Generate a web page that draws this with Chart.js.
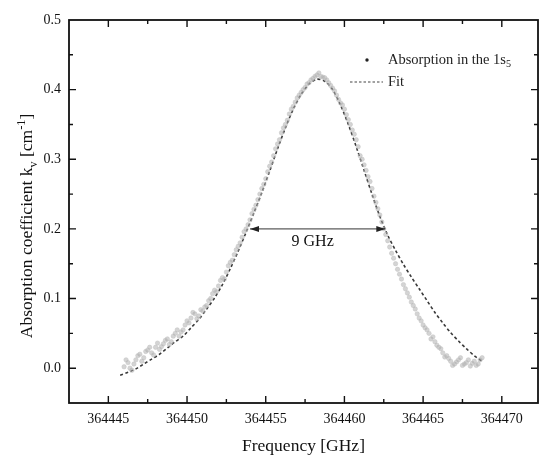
<!DOCTYPE html>
<html>
<head>
<meta charset="utf-8">
<script src="https://cdn.jsdelivr.net/npm/chart.js@4.4.1/dist/chart.umd.min.js"></script>
<style>
  html, body { margin: 0; padding: 0; background: #fff; }
  #wrap { width: 539px; height: 455px; }
</style>
</head>
<body>
<div id="wrap"><canvas id="absChart" width="539" height="455"></canvas></div>
<script>
// measured absorption, frequencies as offsets from 364000 GHz
const dataFreq = [
  446.00, 446.25, 446.50, 446.75, 447.00, 447.25, 447.50, 447.75, 448.00, 448.25,
  448.50, 448.75, 449.00, 449.25, 449.50, 449.75, 450.00, 450.25, 450.50, 450.75,
  451.00, 451.25, 451.50, 451.75, 452.00, 452.25, 452.50, 452.75, 453.00, 453.25,
  453.50, 453.75, 454.00, 454.25, 454.50, 454.75, 455.00, 455.25, 455.50, 455.75,
  456.00, 456.25, 456.50, 456.75, 457.00, 457.25, 457.50, 457.75, 458.00, 458.25,
  458.50, 458.75, 459.00, 459.25, 459.50, 459.75, 460.00, 460.25, 460.50, 460.75,
  461.00, 461.25, 461.50, 461.75, 462.00, 462.25, 462.50, 462.75, 463.00, 463.25,
  463.50, 463.75, 464.00, 464.25, 464.50, 464.75, 465.00, 465.25, 465.50, 465.75,
  466.00, 466.25, 466.50, 466.75, 467.00, 467.25, 467.50, 467.75, 468.00, 468.25,
  468.50, 468.75
];
const dataAbs = [
  0.002, 0.008, -0.003, 0.012, 0.020, 0.015, 0.026, 0.022, 0.030, 0.027,
  0.035, 0.042, 0.038, 0.050, 0.046, 0.055, 0.068, 0.072, 0.078, 0.075,
  0.082, 0.090, 0.100, 0.112, 0.118, 0.130, 0.138, 0.152, 0.163, 0.175,
  0.188, 0.200, 0.213, 0.228, 0.242, 0.258, 0.272, 0.290, 0.305, 0.322,
  0.338, 0.350, 0.365, 0.376, 0.388, 0.396, 0.403, 0.410, 0.416, 0.421,
  0.419, 0.417, 0.410, 0.402, 0.392, 0.381, 0.372, 0.357, 0.342, 0.328,
  0.305, 0.292, 0.275, 0.258, 0.238, 0.220, 0.200, 0.183, 0.165, 0.150,
  0.135, 0.120, 0.108, 0.095, 0.085, 0.072, 0.062, 0.055, 0.042, 0.038,
  0.030, 0.022, 0.018, 0.010, 0.006, 0.012, 0.004, 0.008, 0.003, 0.010,
  0.006, 0.015
];
// second sweep, read between the first one
const dataFreq2 = [
  446.125, 446.375, 446.625, 446.875, 447.125, 447.375, 447.625, 447.875, 448.125, 448.375,
  448.625, 448.875, 449.125, 449.375, 449.625, 449.875, 450.125, 450.375, 450.625, 450.875,
  451.125, 451.375, 451.625, 451.875, 452.125, 452.375, 452.625, 452.875, 453.125, 453.375,
  453.625, 453.875, 454.125, 454.375, 454.625, 454.875, 455.125, 455.375, 455.625, 455.875,
  456.125, 456.375, 456.625, 456.875, 457.125, 457.375, 457.625, 457.875, 458.125, 458.375,
  458.625, 458.875, 459.125, 459.375, 459.625, 459.875, 460.125, 460.375, 460.625, 460.875,
  461.125, 461.375, 461.625, 461.875, 462.125, 462.375, 462.625, 462.875, 463.125, 463.375,
  463.625, 463.875, 464.125, 464.375, 464.625, 464.875, 465.125, 465.375, 465.625, 465.875,
  466.125, 466.375, 466.625, 466.875, 467.125, 467.375, 467.625, 467.875, 468.125, 468.375,
  468.625
];
const dataAbs2 = [
  0.012, 0.000, 0.006, 0.018, 0.010, 0.024, 0.030, 0.019, 0.036, 0.031,
  0.040, 0.034, 0.046, 0.055, 0.052, 0.062, 0.065, 0.080, 0.071, 0.084,
  0.088, 0.097, 0.107, 0.110, 0.126, 0.128, 0.147, 0.155, 0.170, 0.180,
  0.196, 0.206, 0.222, 0.234, 0.250, 0.264, 0.282, 0.296, 0.315, 0.328,
  0.345, 0.356, 0.372, 0.382, 0.392, 0.400, 0.408, 0.414, 0.419, 0.424,
  0.418, 0.414, 0.406, 0.398, 0.386, 0.378, 0.364, 0.350, 0.336, 0.318,
  0.300, 0.284, 0.268, 0.247, 0.229, 0.210, 0.192, 0.174, 0.158, 0.142,
  0.128, 0.114, 0.102, 0.090, 0.078, 0.068, 0.058, 0.050, 0.045, 0.033,
  0.028, 0.016, 0.014, 0.004, 0.009, 0.015, 0.006, 0.012, 0.007, 0.004,
  0.012
];

// fit curve
const fitFreq = [
  445.75, 446.25, 446.75, 447.25, 447.75, 448.25, 448.75, 449.25, 449.75, 450.25,
  450.75, 451.25, 451.75, 452.25, 452.75, 453.25, 453.75, 454.25, 454.75, 455.25,
  455.75, 456.25, 456.75, 457.25, 457.75, 458.25, 458.75, 459.25, 459.75, 460.25,
  460.75, 461.25, 461.75, 462.25, 462.75, 463.25, 463.75, 464.25, 464.75, 465.25,
  465.75, 466.25, 466.75, 467.25, 467.75, 468.25, 468.75
];
const fitAbs = [
  -0.010, -0.006, -0.001, 0.006, 0.013, 0.020, 0.029, 0.038, 0.046, 0.058,
  0.070, 0.085, 0.101, 0.120, 0.143, 0.168, 0.195, 0.223, 0.252, 0.283,
  0.315, 0.345, 0.372, 0.393, 0.408, 0.415, 0.412, 0.400, 0.378, 0.350,
  0.318, 0.284, 0.250, 0.218, 0.191, 0.169, 0.149, 0.131, 0.114, 0.097,
  0.080, 0.065, 0.051, 0.039, 0.028, 0.018, 0.010
];

const freqBase = 364000;
const fwhmStart = 364454.0;
const fwhmEnd = 364462.6;
const fwhmLevel = 0.2;

const serif = '"Liberation Serif", "Times New Roman", serif';

function toPoints(xs, ys) {
  return xs.map((x, i) => ({ x: freqBase + x, y: ys[i] }));
}

// writes a run of text pieces, some of them sub- or superscript
function drawRich(ctx, parts, x, y, size) {
  let cx = x;
  parts.forEach(p => {
    const s = p.sub || p.sup ? size * 0.7 : size;
    const dy = p.sub ? size * 0.3 : (p.sup ? -size * 0.4 : 0);
    ctx.font = s + 'px ' + serif;
    ctx.fillText(p.t, cx, y + dy);
    cx += ctx.measureText(p.t).width;
  });
  return cx - x;
}

function richWidth(ctx, parts, size) {
  let w = 0;
  parts.forEach(p => {
    const s = p.sub || p.sup ? size * 0.7 : size;
    ctx.font = s + 'px ' + serif;
    w += ctx.measureText(p.t).width;
  });
  return w;
}

const framePlugin = {
  id: 'frame',
  // the plot box runs to the right edge of the canvas, as in the original
  afterLayout(chart) {
    const area = chart.chartArea;
    const xs = chart.scales.x;
    area.right = 538;
    area.width = area.right - area.left;
    xs.right = 538;
    xs.width = xs.right - xs.left;
    xs.configure();
  },
  afterDraw(chart) {
    const ctx = chart.ctx;
    const area = chart.chartArea;
    const xs = chart.scales.x;
    const ys = chart.scales.y;
    ctx.save();
    ctx.strokeStyle = '#111';
    ctx.lineWidth = 1.8;
    ctx.strokeRect(area.left, area.top, area.right - area.left, area.bottom - area.top);

    // inward ticks on all four sides
    ctx.lineWidth = 1.4;
    xs.ticks.forEach(t => {
      const v = t.value;
      const r = Math.abs(v / 2.5 - Math.round(v / 2.5));
      if (r > 0.01 || v < xs.min + 0.1 || v > xs.max - 0.1) return;
      const major = Math.abs(v / 5 - Math.round(v / 5)) < 0.01;
      const len = major ? 7 : 4;
      const px = xs.getPixelForValue(v);
      ctx.beginPath();
      ctx.moveTo(px, area.bottom); ctx.lineTo(px, area.bottom - len);
      ctx.moveTo(px, area.top); ctx.lineTo(px, area.top + len);
      ctx.stroke();
    });
    ys.ticks.forEach(t => {
      const v = t.value;
      if (v <= ys.min + 0.001 || v >= ys.max - 0.001) return;
      const major = Math.abs(v * 10 - Math.round(v * 10)) < 0.01;
      const len = major ? 7 : 4;
      const py = ys.getPixelForValue(v);
      ctx.beginPath();
      ctx.moveTo(area.left, py); ctx.lineTo(area.left + len, py);
      ctx.moveTo(area.right, py); ctx.lineTo(area.right - len, py);
      ctx.stroke();
    });

    // FWHM arrow
    const ax1 = xs.getPixelForValue(fwhmStart);
    const ax2 = xs.getPixelForValue(fwhmEnd);
    const ay = ys.getPixelForValue(fwhmLevel);
    ctx.strokeStyle = '#333';
    ctx.fillStyle = '#222';
    ctx.lineWidth = 1;
    ctx.beginPath();
    ctx.moveTo(ax1, ay); ctx.lineTo(ax2, ay);
    ctx.stroke();
    [[ax1, 1], [ax2, -1]].forEach(([px, d]) => {
      ctx.beginPath();
      ctx.moveTo(px, ay);
      ctx.lineTo(px + d * 9, ay - 3);
      ctx.lineTo(px + d * 9, ay + 3);
      ctx.closePath();
      ctx.fill();
    });
    ctx.font = '16px ' + serif;
    ctx.textAlign = 'center';
    ctx.textBaseline = 'middle';
    ctx.fillStyle = '#111';
    ctx.fillText('9 GHz', (ax1 + ax2) / 2 - 5, ay + 13);

    // legend
    ctx.textAlign = 'left';
    ctx.fillStyle = '#222';
    ctx.beginPath();
    ctx.arc(367, 60, 1.7, 0, Math.PI * 2);
    ctx.fill();
    drawRich(ctx, [{ t: 'Absorption in the 1s' }, { t: '5', sub: true }], 388, 60, 14.5);
    ctx.strokeStyle = '#444';
    ctx.lineWidth = 1.2;
    ctx.setLineDash([2.5, 2]);
    ctx.beginPath();
    ctx.moveTo(350, 82); ctx.lineTo(383, 82);
    ctx.stroke();
    ctx.setLineDash([]);
    ctx.font = '14.5px ' + serif;
    ctx.fillText('Fit', 388, 82);

    // axis titles
    ctx.fillStyle = '#111';
    ctx.textAlign = 'center';
    ctx.textBaseline = 'alphabetic';
    ctx.font = '17.5px ' + serif;
    ctx.fillText('Frequency [GHz]', (area.left + area.right) / 2, 451);

    const yParts = [
      { t: 'Absorption coefficient k' }, { t: 'v', sub: true },
      { t: ' [cm' }, { t: '-1', sup: true }, { t: ']' }
    ];
    ctx.translate(32, 226);
    ctx.rotate(-Math.PI / 2);
    ctx.textAlign = 'left';
    const w = richWidth(ctx, yParts, 17.5);
    drawRich(ctx, yParts, -w / 2, 0, 17.5);
    ctx.restore();
  }
};

const pointStyle = {
  pointRadius: 2.2,
  pointBackgroundColor: 'rgba(170,170,170,0.5)',
  pointBorderColor: 'rgba(190,190,190,0.45)',
  pointBorderWidth: 1,
  showLine: false
};

new Chart(document.getElementById('absChart'), {
  type: 'scatter',
  data: {
    datasets: [
      {
        label: 'Absorption in the 1s5',
        data: toPoints(dataFreq, dataAbs).concat(toPoints(dataFreq2, dataAbs2)),
        ...pointStyle
      },
      {
        label: 'Fit',
        data: toPoints(fitFreq, fitAbs),
        showLine: true,
        borderColor: '#3a3a3a',
        borderWidth: 1.6,
        borderDash: [3, 2.5],
        pointRadius: 0,
        tension: 0.3
      }
    ]
  },
  options: {
    responsive: false,
    animation: false,
    layout: { padding: { top: 20, right: 1, left: 0, bottom: 0 } },
    plugins: {
      legend: { display: false },
      tooltip: { enabled: false }
    },
    scales: {
      x: {
        type: 'linear',
        min: 364442.5,
        max: 364472.3,
        afterFit: scale => { scale.height = 52; },
        grid: { display: false, drawTicks: false },
        border: { display: false },
        ticks: {
          stepSize: 2.5,
          includeBounds: false,
          padding: 8,
          autoSkip: false,
          maxRotation: 0,
          color: '#111',
          font: { family: serif, size: 14 },
          callback: v => (Math.abs(v / 5 - Math.round(v / 5)) < 0.01 ? String(Math.round(v)) : '')
        }
      },
      y: {
        min: -0.05,
        max: 0.5,
        afterFit: scale => { scale.width = 69; },
        grid: { display: false, drawTicks: false },
        border: { display: false },
        ticks: {
          stepSize: 0.05,
          padding: 8,
          autoSkip: false,
          color: '#111',
          font: { family: serif, size: 14 },
          callback: v => (Math.abs(v * 10 - Math.round(v * 10)) < 0.01 ? v.toFixed(1) : '')
        }
      }
    }
  },
  plugins: [framePlugin]
});
</script>
</body>
</html>
